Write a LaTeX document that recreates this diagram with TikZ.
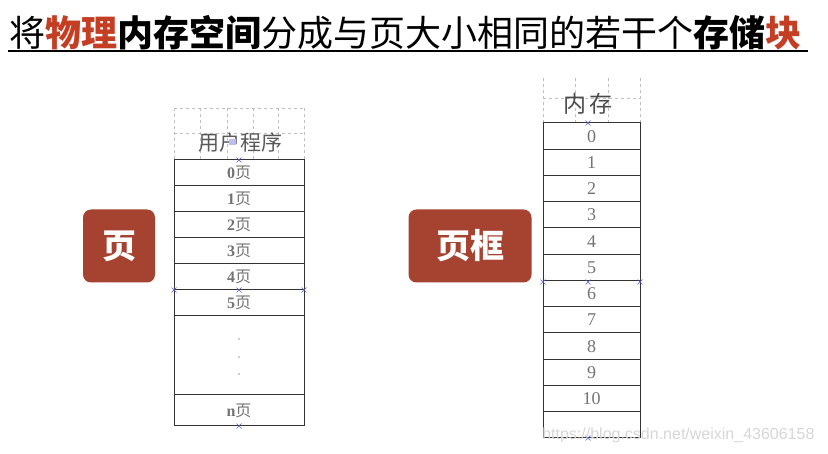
\documentclass[tikz,border=0pt]{standalone}
\usepackage{fontspec}
\setmainfont{Liberation Serif}
\newfontfamily\cjk{Noto Sans CJK SC}
\newfontfamily\wmfont{Liberation Sans}
\usepackage{xcolor}
\definecolor{titlered}{RGB}{196,62,36}
\definecolor{boxred}{RGB}{165,66,48}
\definecolor{markblue}{RGB}{90,90,220}
\newcommand{\xmk}[1]{\draw[markblue, line width=0.6pt] #1 ++(-2.5,-2.5) -- ++(5,5) ++(-5,0) -- ++(5,-5);}

\begin{document}
\begin{tikzpicture}[x=1pt, y=-1pt, font=\rmfamily,
    cell/.style={draw=black!80, line width=1pt},
    grid line/.style={draw=black!25, dashed, line width=0.5pt},
    label box/.style={fill=boxred, rounded corners=8pt, text=white, font=\cjk\bfseries\fontsize{34}{38}\selectfont},
    pagetext/.style={text=black!55, font=\bfseries\fontsize{16}{18}\selectfont},
    frametext/.style={text=black!55, font=\fontsize{18}{20}\selectfont}]
        \useasboundingbox (0,0) rectangle (828,454);
        % title
        \node[anchor=west, inner sep=0pt, font=\cjk\fontsize{36}{40}\selectfont] (title) at (9,33)
            {将{\color{titlered}\bfseries 物理}{\bfseries 内存空间}分成与页大小相同的若干个{\bfseries 存储}{\color{titlered}\bfseries 块}};
        \draw[line width=2pt] (8,51) -- (808,51);
        % labels
        \node[label box, minimum width=72pt, minimum height=73pt] (page) at (119,246) {页};
        \node[label box, minimum width=123pt, minimum height=73pt] (frame) at (470,246) {页框};
        % user program
        \foreach \x in {174,200,227,253,278,304} \draw[grid line] (\x,108) -- (\x,160);
        \foreach \y in {108,133} \draw[grid line] (174,\y) -- (304,\y);
        \node[text=black!65, font=\cjk\fontsize{21}{23}\selectfont] (prog) at (240,143) {用户程序};
        \foreach \i in {0,...,5} \draw[cell] (174,160+26*\i) rectangle (304,186+26*\i) node[midway, pagetext] (pg\i) {\i{\cjk\mdseries 页}};
        \draw[cell] (174,316) rectangle (304,395);
        \foreach \y in {339,357,374} \fill[black!40] (239,\y) circle (0.8pt);
        \draw[cell] (174,395) rectangle (304,426) node[midway, pagetext] (pgn) {n{\cjk\mdseries 页}};
        % memory
        \foreach \x in {543,575,608,640} \draw[grid line] (\x,78) -- (\x,123);
        \draw[grid line] (543,98) -- (640,98);
        \node[text=black!70, font=\cjk\fontsize{23}{25}\selectfont] (mem) at (588,104) {内\,存};
        \foreach \i in {0,...,10} \draw[cell] (543,123+26.25*\i) rectangle (640,149.25+26.25*\i) node[midway, frametext] (fr\i) {\i};
        \draw[cell] (543,411.75) rectangle (640,438);
        % anchor marks
        \xmk{(239,160)} \xmk{(239,290)} \xmk{(174,290)} \xmk{(304,290)} \xmk{(239,426)}
        \xmk{(588,123)} \xmk{(588,282)} \xmk{(543,282)} \xmk{(640,282)} \xmk{(588,438)}
        \fill[markblue!40] (229,139) rectangle (236,145);
        % watermark
        \node[anchor=east, text=black!16, font=\wmfont\fontsize{16}{17}\selectfont] (wm) at (818,435) {https://blog.csdn.net/weixin\_43606158};
    \end{tikzpicture}
\end{document}
